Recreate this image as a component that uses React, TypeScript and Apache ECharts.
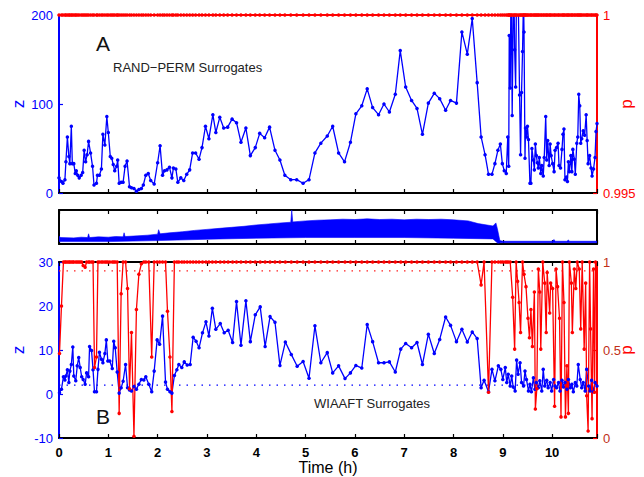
import React, { useEffect, useRef } from "react";
import * as echarts from "echarts";

const FONT = '"Liberation Sans", Arial, Helvetica, sans-serif';
const BLUE = "#0000ff";
const RED = "#ff0000";
const DARKRED = "#c03018";
const X_MAX = 10.91;

// Panel A: [time (h), z, p]
const samplesA = [
  [0.00,17,1],[0.05,13,1],[0.08,11,1],[0.12,15,1],[0.14,35,1],[0.17,63,1],[0.20,41,1],[0.22,33,1],[0.25,75,1],[0.27,33,1],
  [0.30,33,1],[0.33,22,1],[0.35,25,1],[0.38,20,1],[0.41,17,1],[0.45,20,1],[0.48,23,1],[0.51,48,1],[0.54,35,1],[0.57,43,1],
  [0.60,58,1],[0.64,45,1],[0.68,30,1],[0.71,9,1],[0.76,11,1],[0.78,20,1],[0.82,20,1],[0.86,27,1],[0.89,66,1],[0.93,54,1],
  [0.97,86,1],[1.00,68,1],[1.04,41,1],[1.07,39,1],[1.10,32,1],[1.13,25,1],[1.17,30,1],[1.19,37,1],[1.22,11,1],[1.26,12,1],
  [1.30,12,1],[1.34,30,1],[1.38,36,1],[1.43,7,1],[1.47,6,1],[1.52,5,1],[1.57,2,1],[1.62,4,1],[1.67,5,1],[1.71,9,1],
  [1.76,20,1],[1.81,22,1],[1.86,14,1],[1.93,10,1],[2.00,34,1],[2.05,53,1],[2.10,20,1],[2.14,25,1],[2.19,26,1],[2.24,29,1],
  [2.29,17,1],[2.32,28,1],[2.37,27,1],[2.41,12,1],[2.47,17,1],[2.53,14,1],[2.59,21,1],[2.65,26,1],[2.71,45,1],[2.77,45,1],
  [2.84,38,1],[2.90,51,1],[2.97,75,1],[3.04,61,1],[3.12,88,1],[3.18,68,1],[3.26,85,1],[3.34,73,1],[3.42,74,1],[3.51,83,1],
  [3.60,79,1],[3.69,57,1],[3.79,73,1],[3.88,42,1],[3.98,51,1],[4.07,67,1],[4.17,62,1],[4.27,74,1],[4.38,48,1],[4.48,37,1],
  [4.58,20,1],[4.70,15,1],[4.82,15,1],[4.95,11,1],[5.07,15,1],[5.19,45,1],[5.31,56,1],[5.44,64,1],[5.55,75,1],[5.67,45,1],
  [5.79,35,1],[5.91,57,1],[6.02,89,1],[6.14,98,1],[6.25,117,1],[6.36,96,1],[6.48,88,1],[6.59,100,1],[6.70,91,1],[6.82,111,1],
  [6.92,160,1],[7.03,119,1],[7.15,104,1],[7.26,95,1],[7.37,66,1],[7.49,101,1],[7.61,112,1],[7.72,106,1],[7.84,93,1],[7.94,104,1],
  [8.06,101,1],[8.17,181,1],[8.28,156,1],[8.38,196,1],[8.48,124,1],[8.56,63,1],[8.64,43,1],[8.71,21,1],[8.78,21,1],[8.84,33,1],
  [8.90,48,1],[8.95,55,1],[8.99,33,1],[9.03,25,1],[9.07,22,1],[9.10,63,1],[9.12,30,1],[9.13,177,1],[9.15,118,1],[9.17,260,1],
  [9.19,87,1],[9.22,250,1],[9.24,161,1],[9.26,119,1],[9.28,240,1],[9.31,230,1],[9.34,110,1],[9.36,43,1],[9.38,113,1],[9.40,159,1],
  [9.42,220,1],[9.43,181,1],[9.45,39,1],[9.46,73,1],[9.48,63,1],[9.50,75,1],[9.52,60,1],[9.55,11,1],[9.57,11,1],[9.59,50,1],
  [9.62,37,1],[9.64,26,1],[9.66,55,1],[9.68,42,1],[9.70,34,1],[9.72,28,1],[9.74,40,1],[9.77,22,1],[9.79,31,1],[9.82,19,1],
  [9.84,40,1],[9.87,86,1],[9.89,37,1],[9.91,59,1],[9.94,31,1],[9.96,55,1],[9.98,42,1],[10.01,33,1],[10.04,24,1],[10.06,48,1],
  [10.09,51,1],[10.12,56,1],[10.14,31,1],[10.17,28,1],[10.20,49,1],[10.22,66,1],[10.24,72,1],[10.26,15,1],[10.29,18,1],[10.31,13,1],
  [10.33,35,1],[10.35,24,1],[10.38,42,1],[10.40,24,1],[10.42,49,1],[10.45,38,1],[10.47,21,1],[10.50,56,1],[10.52,63,1],[10.54,111,1],
  [10.56,98,1],[10.58,56,1],[10.60,61,1],[10.63,70,1],[10.66,65,1],[10.69,88,1],[10.71,59,1],[10.73,33,1],[10.76,42,1],[10.79,28,1],
  [10.81,19,1],[10.84,27,1],[10.87,40,1],[10.89,69,1],[10.91,78,1]
];

// Middle panel: EEG amplitude envelope (arbitrary units 0..1)
const midUpper = [
  [0.00,0.24],[0.03,0.19],[0.30,0.18],[0.45,0.20],[0.58,0.19],[0.60,0.30],[0.62,0.19],[0.80,0.21],[1.00,0.20],[1.15,0.22],
  [1.30,0.21],[1.32,0.33],[1.34,0.22],[1.60,0.24],[1.80,0.26],[2.00,0.29],[2.02,0.42],[2.05,0.30],[2.25,0.33],[2.50,0.36],
  [2.75,0.40],[3.00,0.43],[3.25,0.46],[3.50,0.49],[3.75,0.52],[4.00,0.56],[4.25,0.59],[4.50,0.62],[4.70,0.64],[4.72,1.00],
  [4.74,0.65],[5.00,0.68],[5.25,0.70],[5.50,0.71],[5.75,0.73],[6.00,0.72],[6.25,0.74],[6.50,0.72],[6.75,0.73],[7.00,0.71],
  [7.25,0.73],[7.50,0.72],[7.75,0.73],[8.00,0.71],[8.30,0.68],[8.50,0.60],[8.80,0.53],[8.86,0.62],[8.89,0.45],[8.94,0.10],
  [9.00,0.08],[10.00,0.08],[10.04,0.13],[10.06,0.08],[10.30,0.08],[10.33,0.12],[10.35,0.08],[10.91,0.08]
];
const midLower = [
  [0.00,0.07],[1.00,0.07],[2.00,0.10],[3.00,0.14],[4.00,0.17],[5.00,0.19],[6.00,0.19],[7.00,0.19],[8.00,0.17],[8.80,0.15],
  [8.90,0.02],[8.96,0.04],[10.91,0.04]
];

// Panel B: [time (h), z, p]
const samplesB = [
  [0.01,0.3,0.48],[0.05,1.1,0.75],[0.09,3.9,1],[0.12,3.2,1],[0.14,4.1,1],[0.17,5.5,1],[0.20,2.6,1],[0.22,5.2,1],[0.25,6.7,1],[0.28,10.7,1],
  [0.30,4.1,1],[0.34,3.0,1],[0.37,6.4,1],[0.40,8.3,1],[0.43,6.0,1],[0.46,3.9,1],[0.49,3.3,0.98],[0.53,2.2,0.97],[0.56,4.8,1],[0.60,3.9,1],
  [0.62,10.8,1],[0.66,9.9,1],[0.69,5.5,1],[0.72,0.5,0.40],[0.76,0.5,0.46],[0.79,5.6,1],[0.82,9.5,1],[0.86,7.9,1],[0.89,7.1,1],[0.93,9.2,1],
  [0.96,12.3,1],[0.99,7.5,1],[1.03,7.5,1],[1.08,5.8,1],[1.11,12.0,1],[1.14,10.5,1],[1.18,5.0,1],[1.22,0.2,0.14],[1.26,1.4,0.82],[1.30,2.9,1],
  [1.35,6.7,1],[1.39,1.4,0.85],[1.43,0.9,0.28],[1.47,0.7,0.60],[1.52,1.7,0.01],[1.57,1.1,0.73],[1.62,2.2,0.93],[1.67,3.3,0.99],[1.72,3.2,1],[1.76,3.9,1],
  [1.82,2.2,1],[1.88,0.5,0.46],[1.93,5.2,1],[1.99,12.3,1],[2.04,11.3,1],[2.10,17.7,1],[2.16,2.7,1],[2.20,1.1,0.72],[2.25,0.5,0.46],[2.29,0.2,0.15],
  [2.34,4.2,1],[2.39,5.5,1],[2.43,6.7,1],[2.49,6.0,1],[2.54,7.3,1],[2.60,6.6,1],[2.66,6.7,1],[2.72,12.9,1],[2.78,12.0,1],[2.84,10.5,1],
  [2.91,13.9,1],[2.98,16.4,1],[3.04,13.2,1],[3.11,19.5,1],[3.18,14.7,1],[3.27,16.0,1],[3.35,13.9,1],[3.43,14.5,1],[3.52,11.7,1],[3.60,21.0,1],
  [3.69,11.1,1],[3.79,21.2,1],[3.88,11.9,1],[3.98,18.0,1],[4.08,19.8,1],[4.18,10.8,1],[4.28,17.6,1],[4.38,16.3,1],[4.48,6.5,1],[4.59,11.8,1],
  [4.71,9.0,1],[4.83,6.3,1],[4.95,7.4,1],[5.07,3.6,1],[5.19,15.5,1],[5.31,7.1,1],[5.44,9.4,1],[5.55,4.8,1],[5.67,6.4,1],[5.80,3.5,1],
  [5.91,4.8,1],[6.02,6.5,1],[6.14,5.9,1],[6.25,15.8,1],[6.36,11.9,1],[6.48,7.1,1],[6.59,7.1,1],[6.70,7.3,1],[6.82,5.0,1],[6.93,10.2,1],
  [7.03,11.5,1],[7.15,10.5,1],[7.26,11.7,1],[7.37,6.7,1],[7.49,13.6,1],[7.61,9.2,1],[7.72,12.4,1],[7.84,17.5,1],[7.94,15.6,1],[8.06,11.9,1],
  [8.17,14.7,1],[8.28,11.8,1],[8.38,14.1,1],[8.48,12.6,1],[8.56,1.4,0.87],[8.62,3.1,1],[8.71,0.5,0.26],[8.78,5.6,1],[8.84,3.0,1],[8.91,6.4,1],
  [8.96,5.6,1],[9.00,3.3,1],[9.05,6.0,1]
];
// Panel B after 9.05 h: z and p sampled separately
const zBTail = [
  [9.08,2.6],[9.11,4.5],[9.15,1.8],[9.18,4.1],[9.21,1.6],[9.25,0.7],[9.28,7.7],[9.31,4.5],[9.35,7.1],[9.38,2.6],
  [9.42,1.8],[9.45,5.2],[9.48,3.3],[9.52,0.7],[9.55,2.2],[9.58,0.5],[9.62,3.7],[9.65,1.1],[9.68,2.6],[9.72,1.4],
  [9.75,3.0],[9.79,0.7],[9.82,5.6],[9.85,1.8],[9.89,3.1],[9.92,1.4],[9.96,2.6],[9.99,0.7],[10.03,3.3],[10.06,1.8],
  [10.09,1.4],[10.13,2.6],[10.16,0.7],[10.20,3.1],[10.23,1.6],[10.26,2.6],[10.30,1.1],[10.33,3.3],[10.37,1.4],[10.40,2.2],
  [10.43,0.5],[10.47,2.6],[10.50,1.8],[10.53,6.7],[10.57,3.3],[10.60,1.4],[10.63,2.6],[10.67,0.7],[10.70,5.6],[10.74,1.8],
  [10.77,0.7],[10.80,3.1],[10.84,0.5],[10.87,2.6],[10.91,1.8]
];
const pBTail = [
  [9.08,1],[9.11,1],[9.15,1],[9.20,0.80],[9.24,0.505],[9.27,1],[9.30,0.89],[9.33,0.77],[9.36,0.60],[9.40,1],
  [9.43,0.93],[9.47,0.86],[9.51,0.68],[9.54,0.57],[9.57,0.73],[9.60,0.52],[9.64,0.83],[9.66,0.165],[9.69,0.28],[9.72,0.96],
  [9.75,0.83],[9.77,0.505],[9.81,1],[9.85,0.88],[9.88,0.60],[9.90,0.94],[9.95,0.71],[9.97,0.88],[10.01,0.85],[10.05,0.18],
  [10.08,0.96],[10.11,0.86],[10.15,0.68],[10.18,0.12],[10.21,1],[10.24,0.77],[10.27,0.12],[10.30,0.41],[10.33,0.14],[10.35,1],
  [10.39,0.88],[10.41,0.60],[10.45,0.96],[10.48,0.85],[10.51,1],[10.55,0.96],[10.58,0.62],[10.61,1],[10.65,0.505],[10.68,0.88],
  [10.70,0.24],[10.73,0.04],[10.76,1],[10.78,0.62],[10.81,0.11],[10.84,0.96],[10.86,0.26],[10.88,1]
];

const zThreshold = 2;
const pThreshold = 0.95;

export default function App() {
  const ref = useRef<HTMLDivElement>(null);
  useEffect(() => {
    if (!ref.current) return;
    const chart = echarts.init(ref.current, undefined, { renderer: "svg" });

    const xBase = (gridIndex: number, position: string, labels: boolean) => ({
      type: "value",
      gridIndex,
      position,
      min: 0,
      max: X_MAX,
      interval: 1,
      axisLine: { show: true, onZero: false, lineStyle: { color: "#000", width: 2 } },
      axisTick: { show: true, inside: true, length: 4, lineStyle: { color: "#000", width: 1.2 } },
      axisLabel: labels
        ? {
            show: true,
            color: "#000",
            fontFamily: FONT,
            fontSize: 13,
            fontWeight: "bold",
            margin: 8,
            formatter: (v: number) => (Math.abs(v - Math.round(v)) < 1e-6 ? String(Math.round(v)) : ""),
          }
        : { show: false },
      splitLine: { show: false },
      name: labels ? "Time (h)" : "",
      nameLocation: "middle",
      nameGap: 21,
      nameMoveOverlap: false,
      nameTextStyle: { color: "#000", fontFamily: FONT, fontSize: 16 },
    });

    const yAxis = (gridIndex: number, position: string, min: number, max: number, interval: number, color: string, labelColor: string, name: string, nameGap: number, showLabels = true, fmt?: (v: number) => string) => ({
      type: "value",
      gridIndex,
      position,
      min,
      max,
      interval,
      axisLine: { show: true, onZero: false, lineStyle: { color, width: 2 } },
      axisTick: { show: showLabels, inside: true, length: 4, lineStyle: { color, width: 1.2 } },
      axisLabel: showLabels
        ? { show: true, color: labelColor, fontFamily: FONT, fontSize: 13, margin: 6, formatter: fmt }
        : { show: false },
      splitLine: { show: false },
      name,
      nameLocation: "middle",
      nameRotate: 90,
      nameGap,
      nameMoveOverlap: false,
      nameTextStyle: { color, fontFamily: FONT, fontSize: 17 },
    });

    const lineSeries = (data: number[][], xAxisIndex: number, yAxisIndex: number, color: string, extra: any = {}) => ({
      type: "line",
      xAxisIndex,
      yAxisIndex,
      data,
      symbol: "circle",
      symbolSize: 3.5,
      showSymbol: true,
      silent: true,
      clip: true,
      lineStyle: { color, width: 1.3 },
      itemStyle: { color },
      emphasis: { disabled: true },
      ...extra,
    });

    const thresholdSeries = (value: number, yAxisIndex: number, color: string) => ({
      type: "line",
      xAxisIndex: 3,
      yAxisIndex,
      data: [[0, value], [X_MAX, value]],
      symbol: "none",
      silent: true,
      lineStyle: { color, width: 1.2, type: [1.5, 6] },
      itemStyle: { color },
      emphasis: { disabled: true },
    });

    const gridBase = { containLabel: false, outerBoundsMode: "none" };

    const option: any = {
      animation: false,
      textStyle: { fontFamily: FONT },
      grid: [
        { ...gridBase, left: 59, top: 15, width: 538, height: 178 },
        { ...gridBase, left: 59, top: 210, width: 538, height: 34 },
        { ...gridBase, left: 59, top: 262, width: 538, height: 176 },
      ],
      xAxis: [
        xBase(0, "bottom", false),
        xBase(1, "bottom", false),
        xBase(1, "top", false),
        xBase(2, "bottom", true),
        xBase(2, "top", false),
      ],
      yAxis: [
        yAxis(0, "left", 0, 200, 100, BLUE, BLUE, "z", 32),
        yAxis(0, "right", 0.995, 1, 0.005, RED, RED, "p", 21, true, (v: number) => String(Number(v.toFixed(3)))),
        yAxis(1, "left", 0, 1, 1, "#000", "#000", "", 0, false),
        yAxis(1, "right", 0, 1, 1, "#000", "#000", "", 0, false),
        yAxis(2, "left", -10, 30, 10, BLUE, BLUE, "z", 32),
        yAxis(2, "right", 0, 1, 0.5, RED, DARKRED, "p", 21),
      ],
      series: [
        lineSeries(samplesA.map((s) => [s[0], s[1]]), 0, 0, BLUE),
        lineSeries(samplesA.map((s) => [s[0], s[2]]), 0, 1, RED, { lineStyle: { color: RED, width: 2 } }),
        {
          type: "custom",
          xAxisIndex: 1,
          yAxisIndex: 2,
          silent: true,
          clip: true,
          data: [[0, 0]],
          renderItem: (_params: any, api: any) => {
            const pts: number[][] = [];
            midUpper.forEach((p) => pts.push(api.coord(p)));
            midLower.slice().reverse().forEach((p) => pts.push(api.coord(p)));
            return { type: "polygon", shape: { points: pts }, style: { fill: BLUE, stroke: BLUE, lineWidth: 0.6 } };
          },
        },
        thresholdSeries(zThreshold, 4, BLUE),
        thresholdSeries(pThreshold, 5, "#ff2020"),
        lineSeries(samplesB.map((s) => [s[0], s[1]]).concat(zBTail), 3, 4, BLUE),
        lineSeries(samplesB.map((s) => [s[0], s[2]]).concat(pBTail), 3, 5, RED),
      ],
      graphic: [
        { type: "text", left: 96, top: 33, style: { text: "A", font: `21px ${FONT}`, fill: "#111" } },
        { type: "text", left: 113, top: 61, style: { text: "RAND\u2212PERM Surrogates", font: `13px ${FONT}`, fill: "#222" } },
        { type: "text", left: 96, top: 406, style: { text: "B", font: `21px ${FONT}`, fill: "#111" } },
        { type: "text", left: 314, top: 397, style: { text: "WIAAFT Surrogates", font: `13px ${FONT}`, fill: "#222" } },
      ],
    };

    chart.setOption(option);
    return () => chart.dispose();
  }, []);

  return <div ref={ref} style={{ width: 644, height: 477, position: "absolute", left: 0, top: 0, background: "#fff" }} />;
}
